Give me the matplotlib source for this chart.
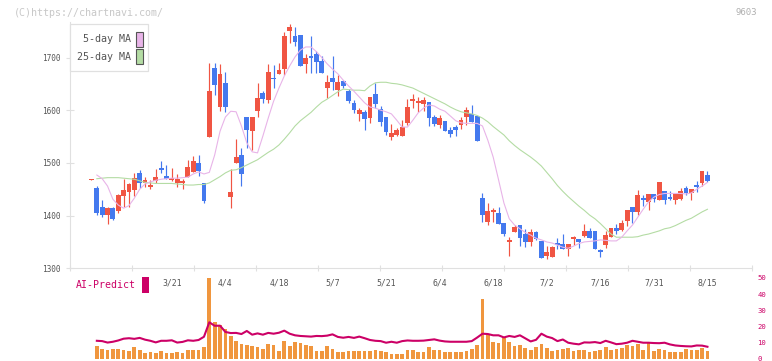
import matplotlib
matplotlib.use("Agg")
import matplotlib.pyplot as plt
from matplotlib.patches import Rectangle
from matplotlib.transforms import blended_transform_factory
import numpy as np

plt.rcParams['font.family'] = ['DejaVu Sans Mono']

# ── data (one entry per trading day) ────────────────────────────
opens = [1467, 1452, 1416, 1402, 1414, 1409, 1438, 1445, 1449, 1480,
         1462, 1455, 1466, 1488, 1475, 1467, 1462, 1462, 1473, 1483,
         1500, 1462, 1550, 1680, 1607, 1652, 1436, 1499, 1515, 1587,
         1561, 1599, 1632, 1619, 1660, 1669, 1678, 1750, 1741, 1743,
         1688, 1701, 1707, 1693, 1643, 1662, 1639, 1655, 1637, 1614,
         1592, 1596, 1586, 1631, 1603, 1587, 1550, 1552, 1551, 1576,
         1618, 1614, 1611, 1616, 1587, 1571, 1580, 1563, 1568, 1571,
         1587, 1593, 1589, 1433, 1387, 1407, 1405, 1386, 1350, 1368,
         1382, 1366, 1349, 1368, 1352, 1323, 1322, 1346, 1346, 1337,
         1355, 1356, 1361, 1371, 1371, 1332, 1345, 1360, 1377, 1373,
         1390, 1416, 1407, 1431, 1426, 1441, 1430, 1447, 1435, 1430,
         1432, 1452, 1443, 1456, 1462, 1477]
highs = [1469, 1456, 1430, 1416, 1416, 1441, 1469, 1462, 1481, 1487,
         1473, 1468, 1488, 1504, 1496, 1490, 1478, 1469, 1506, 1514,
         1515, 1462, 1690, 1690, 1687, 1673, 1488, 1545, 1529, 1587,
         1588, 1652, 1637, 1688, 1686, 1690, 1749, 1764, 1757, 1743,
         1707, 1740, 1712, 1702, 1667, 1702, 1667, 1657, 1641, 1619,
         1604, 1600, 1625, 1651, 1608, 1587, 1574, 1566, 1581, 1622,
         1631, 1625, 1625, 1616, 1591, 1591, 1580, 1569, 1572, 1588,
         1607, 1610, 1589, 1443, 1423, 1415, 1416, 1386, 1360, 1382,
         1382, 1374, 1374, 1370, 1352, 1342, 1342, 1357, 1366, 1347,
         1362, 1356, 1384, 1377, 1371, 1337, 1371, 1377, 1384, 1392,
         1411, 1416, 1449, 1439, 1441, 1441, 1464, 1447, 1447, 1441,
         1452, 1456, 1451, 1466, 1485, 1485]
lows = [1467, 1402, 1397, 1384, 1391, 1404, 1417, 1417, 1438, 1452,
        1455, 1451, 1461, 1480, 1469, 1466, 1455, 1451, 1473, 1483,
        1476, 1423, 1550, 1628, 1599, 1597, 1414, 1499, 1457, 1528,
        1525, 1587, 1614, 1613, 1642, 1668, 1667, 1727, 1721, 1684,
        1670, 1670, 1671, 1670, 1624, 1638, 1626, 1643, 1614, 1594,
        1579, 1562, 1575, 1604, 1570, 1552, 1543, 1551, 1551, 1572,
        1604, 1597, 1599, 1570, 1570, 1566, 1561, 1550, 1551, 1564,
        1572, 1577, 1542, 1387, 1382, 1388, 1385, 1361, 1324, 1368,
        1343, 1341, 1343, 1354, 1320, 1318, 1322, 1336, 1337, 1324,
        1345, 1339, 1360, 1358, 1337, 1322, 1339, 1360, 1365, 1370,
        1380, 1386, 1401, 1419, 1411, 1425, 1430, 1422, 1430, 1422,
        1430, 1439, 1430, 1445, 1456, 1464]
closes = [1469, 1404, 1402, 1414, 1394, 1439, 1449, 1460, 1472, 1462,
          1468, 1459, 1473, 1487, 1469, 1471, 1469, 1466, 1492, 1504,
          1485, 1428, 1636, 1647, 1669, 1607, 1445, 1512, 1478, 1562,
          1587, 1623, 1621, 1673, 1659, 1676, 1741, 1758, 1730, 1684,
          1699, 1700, 1692, 1671, 1654, 1654, 1654, 1645, 1618, 1600,
          1601, 1584, 1625, 1612, 1577, 1559, 1557, 1563, 1568, 1606,
          1619, 1615, 1619, 1586, 1574, 1585, 1561, 1555, 1562, 1581,
          1600, 1577, 1542, 1401, 1409, 1408, 1385, 1366, 1351, 1378,
          1358, 1349, 1368, 1355, 1320, 1331, 1340, 1345, 1337, 1347,
          1360, 1350, 1371, 1358, 1337, 1331, 1363, 1377, 1370, 1386,
          1411, 1407, 1439, 1430, 1441, 1432, 1464, 1430, 1431, 1441,
          1447, 1443, 1451, 1455, 1485, 1466]

ma5 = [None, 1477, 1470, 1456, 1431, 1420, 1414, 1419, 1433, 1450,
       1460, 1464, 1467, 1469, 1470, 1471, 1471, 1472, 1473, 1479,
       1483, 1479, 1482, 1515, 1560, 1587, 1598, 1597, 1570, 1538,
       1521, 1519, 1551, 1585, 1617, 1642, 1665, 1684, 1701, 1714,
       1720, 1720, 1711, 1700, 1688, 1678, 1669, 1657, 1646, 1636,
       1625, 1614, 1606, 1604, 1600, 1597, 1593, 1581, 1568, 1568,
       1581, 1595, 1604, 1610, 1608, 1602, 1598, 1589, 1580, 1576,
       1575, 1575, 1575, 1570, 1543, 1511, 1468, 1424, 1394, 1382,
       1375, 1368, 1363, 1357, 1354, 1350, 1348, 1344, 1340, 1338,
       1342, 1347, 1350, 1351, 1352, 1354, 1353, 1352, 1352, 1359,
       1371, 1382, 1397, 1412, 1426, 1435, 1440, 1442, 1442, 1442,
       1442, 1441, 1443, 1450, 1456, 1463]
ma25 = [None, 1470, 1471, 1472, 1472, 1472, 1471, 1470, 1469, 1466,
        1463, 1462, 1461, 1461, 1461, 1461, 1460, 1459, 1458, 1458,
        1459, 1459, 1462, 1468, 1474, 1481, 1486, 1487, 1491, 1496,
        1501, 1506, 1513, 1520, 1526, 1534, 1545, 1557, 1570, 1580,
        1588, 1596, 1606, 1615, 1621, 1628, 1635, 1640, 1639, 1638,
        1638, 1637, 1646, 1652, 1653, 1653, 1651, 1650, 1648, 1645,
        1642, 1637, 1632, 1627, 1622, 1617, 1612, 1606, 1601, 1597,
        1595, 1593, 1590, 1585, 1578, 1569, 1561, 1553, 1542, 1533,
        1525, 1518, 1511, 1503, 1494, 1482, 1470, 1457, 1446, 1436,
        1427, 1418, 1410, 1401, 1394, 1385, 1375, 1365, 1359, 1359,
        1359, 1359, 1360, 1363, 1365, 1368, 1371, 1375, 1377, 1381,
        1386, 1391, 1395, 1401, 1407, 1412]

volume = [None, 7.7, 5.6, 5.2, 5.6, 5.6, 5.0, 4.6, 6.9, 5.0,
          3.3, 3.75, 3.3, 4.4, 3.5, 3.3, 3.75, 3.5, 5.2, 5.4,
          5.0, 7.1, 50, 22.7, 20.8, 18.1, 14.0, 10.6, 8.75, 8.5,
          7.9, 7.2, 5.6, 8.75, 8.1, 4.4, 10.6, 7.5, 10.0, 9.4,
          8.5, 7.5, 4.4, 4.4, 7.5, 5.6, 4.2, 3.75, 4.4, 4.4,
          4.4, 4.4, 4.4, 5.0, 4.4, 3.75, 3.1, 2.7, 3.1, 5.0,
          5.0, 3.75, 3.75, 6.9, 5.0, 5.0, 3.75, 3.75, 3.75, 3.75,
          4.4, 5.6, 8.1, 36.9, 15.4, 10.0, 9.4, 13.1, 10.0, 7.5,
          8.1, 6.25, 5.0, 6.9, 8.75, 6.25, 4.4, 5.0, 5.6, 6.25,
          4.4, 5.0, 5.0, 4.0, 4.4, 5.0, 6.9, 5.0, 5.6, 6.25,
          8.1, 7.5, 8.75, 5.0, 9.4, 4.4, 5.6, 5.0, 3.75, 3.75,
          3.75, 5.6, 5.0, 5.0, 6.25, 4.4]
ai_predict = [None, 11.0, 10.8, 9.9, 10.4, 11.2, 12.3, 12.6, 12.2, 12.8,
              11.7, 11.0, 10.0, 11.0, 11.0, 11.3, 9.9, 10.3, 11.3, 11.0,
              11.5, 13.5, 22.5, 20.3, 20.4, 16.5, 15.8, 15.9, 15.2, 17.1,
              14.8, 15.6, 14.8, 15.9, 15.4, 16.0, 17.3, 15.4, 14.4, 14.0,
              13.8, 13.6, 14.0, 13.9, 14.2, 15.0, 13.4, 12.9, 13.4, 12.8,
              13.6, 12.6, 11.5, 11.0, 10.8, 9.8, 10.4, 9.8, 10.8, 11.2,
              11.0, 11.0, 11.1, 11.5, 11.9, 11.1, 10.6, 10.4, 10.4, 10.4,
              10.4, 10.8, 13.0, 15.4, 15.2, 14.4, 14.4, 13.1, 14.0, 13.4,
              14.4, 12.5, 10.6, 11.6, 15.4, 13.6, 12.7, 10.8, 11.8, 9.8,
              9.2, 8.8, 10.0, 9.9, 10.2, 9.6, 11.0, 10.0, 8.9, 9.2,
              9.8, 11.0, 10.4, 9.8, 9.8, 9.6, 9.5, 9.8, 8.75, 8.1,
              7.8, 7.6, 7.5, 8.1, 8.0, 7.3]

date_labels = ["3/21", "4/4", "4/18", "5/7", "5/21", "6/4",
               "6/18", "7/2", "7/16", "7/31", "8/15"]
date_label_idx = [15, 25, 35, 45, 55, 65, 75, 85, 95, 105, 115]
price_ticks = [1300, 1400, 1500, 1600, 1700]
ai_ticks = [0, 10, 20, 30, 40, 50]

# ── colours ────────────────────────────────────────────────────
UP = "#f05543"
DOWN = "#4479ee"
MA5_C = "#e8b4e8"
MA25_C = "#b4dca4"
VOL_C = "#f0963e"
AI_C = "#cc0066"
AXIS_C = "#e0e0e0"
TEXT_C = "#555555"

W, H = 772, 361
fig = plt.figure(figsize=(W / 100, H / 100), dpi=100)

x = np.arange(len(opens))
o = np.array(opens, float)
c = np.array(closes, float)
hi = np.array(highs, float)
lo = np.array(lows, float)
up = c >= o
cols = np.where(up, UP, DOWN)

# ── price panel ────────────────────────────────────────────────
ax = fig.add_axes([70 / W, (H - 268.3) / H, 682 / W, 246.3 / H])
ax.set_xlim(-4.01, 123.32)
ax.set_ylim(1300, 1300 + 246.3 / 0.527)

ax.vlines(x, lo, hi, colors=cols, linewidth=0.85, zorder=2)
body_h = np.maximum(np.abs(c - o), 3.0)
ax.bar(x, body_h, bottom=np.minimum(o, c), width=0.9, color=cols,
       linewidth=0, zorder=3)

ma5_arr = np.array([np.nan if v is None else v for v in ma5])
ma25_arr = np.array([np.nan if v is None else v for v in ma25])
ax.plot(x, ma25_arr, color=MA25_C, linewidth=0.8, zorder=4)
ax.plot(x, ma5_arr, color=MA5_C, linewidth=0.8, zorder=4)

for s in ["top", "right"]:
    ax.spines[s].set_visible(False)
for s in ["left", "bottom"]:
    ax.spines[s].set_color(AXIS_C)
    ax.spines[s].set_linewidth(0.8)
ax.set_yticks(price_ticks)
ax.set_yticklabels([str(t) for t in price_ticks])
ax.tick_params(axis="y", direction="inout", length=6, width=0.8, color=AXIS_C,
               labelsize=5.6, labelcolor=TEXT_C, pad=4)
ax.set_xticks(np.linspace(-4.01, 123.32, 12))
ax.set_xticklabels([])
ax.tick_params(axis="x", direction="inout", length=5, width=0.8, color=AXIS_C)

# legend box (drawn by hand to match the original layout)
fig.patches.append(Rectangle((70 / W, (H - 71) / H), 78 / W, 47 / H,
                             transform=fig.transFigure, facecolor="white",
                             edgecolor=AXIS_C, linewidth=0.9, zorder=5))
for label, col, yc in [("5-day MA", MA5_C, 39.5), ("25-day MA", MA25_C, 56.5)]:
    fig.text(131 / W, (H - yc) / H, label, ha="right", va="center",
             fontsize=7.2, color=TEXT_C, zorder=6)
    fig.patches.append(Rectangle((136 / W, (H - yc - 7.5) / H), 6.5 / W, 15 / H,
                                 transform=fig.transFigure, facecolor=col,
                                 edgecolor="#555555", linewidth=0.8, zorder=6))

fig.text(14 / W, (H - 12.5) / H, "(C)https://chartnavi.com/", ha="left",
         va="center", fontsize=7.2, color="#c8c8c8")
fig.text(757 / W, (H - 12.5) / H, "9603", ha="right", va="center",
         fontsize=6.5, color="#b0b0b0")

# ── volume / AI-Predict panel ──────────────────────────────────
vax = fig.add_axes([70 / W, (H - 358.5) / H, 682 / W, 80.5 / H])
vax.set_xlim(-4.01, 123.32)
vax.set_ylim(0, 50)
vol_arr = np.array([np.nan if v is None else v for v in volume])
ai_arr = np.array([np.nan if v is None else v for v in ai_predict])
vax.bar(x, vol_arr, width=0.69, color=VOL_C, linewidth=0, zorder=2)
vax.plot(x, ai_arr, color=AI_C, linewidth=1.5, zorder=3)
for s in vax.spines.values():
    s.set_visible(False)
vax.set_xticks([])
vax.yaxis.tick_right()
vax.set_yticks(ai_ticks)
vax.set_yticklabels([str(t) for t in ai_ticks])
vax.tick_params(axis="y", length=0, labelsize=5.2, labelcolor=AI_C, pad=4)
vax.patch.set_alpha(0)
for lab in vax.get_yticklabels():
    lab.set_verticalalignment("center_baseline")

# date labels sit between the two panels
tr = blended_transform_factory(ax.transData, fig.transFigure)
for i, lab in zip(date_label_idx, date_labels):
    ax.text(i, (H - 282.5) / H, lab, transform=tr, ha="center", va="center",
            fontsize=5.9, color=TEXT_C, clip_on=False)

fig.text(76 / W, (H - 285.5) / H, "AI-Predict", ha="left", va="center",
         fontsize=7.1, color=AI_C)
fig.patches.append(Rectangle((142.3 / W, (H - 292.5) / H), 6.6 / W, 15.6 / H,
                             transform=fig.transFigure, facecolor=AI_C,
                             edgecolor="none"))

fig.savefig("out.png", dpi=100)
